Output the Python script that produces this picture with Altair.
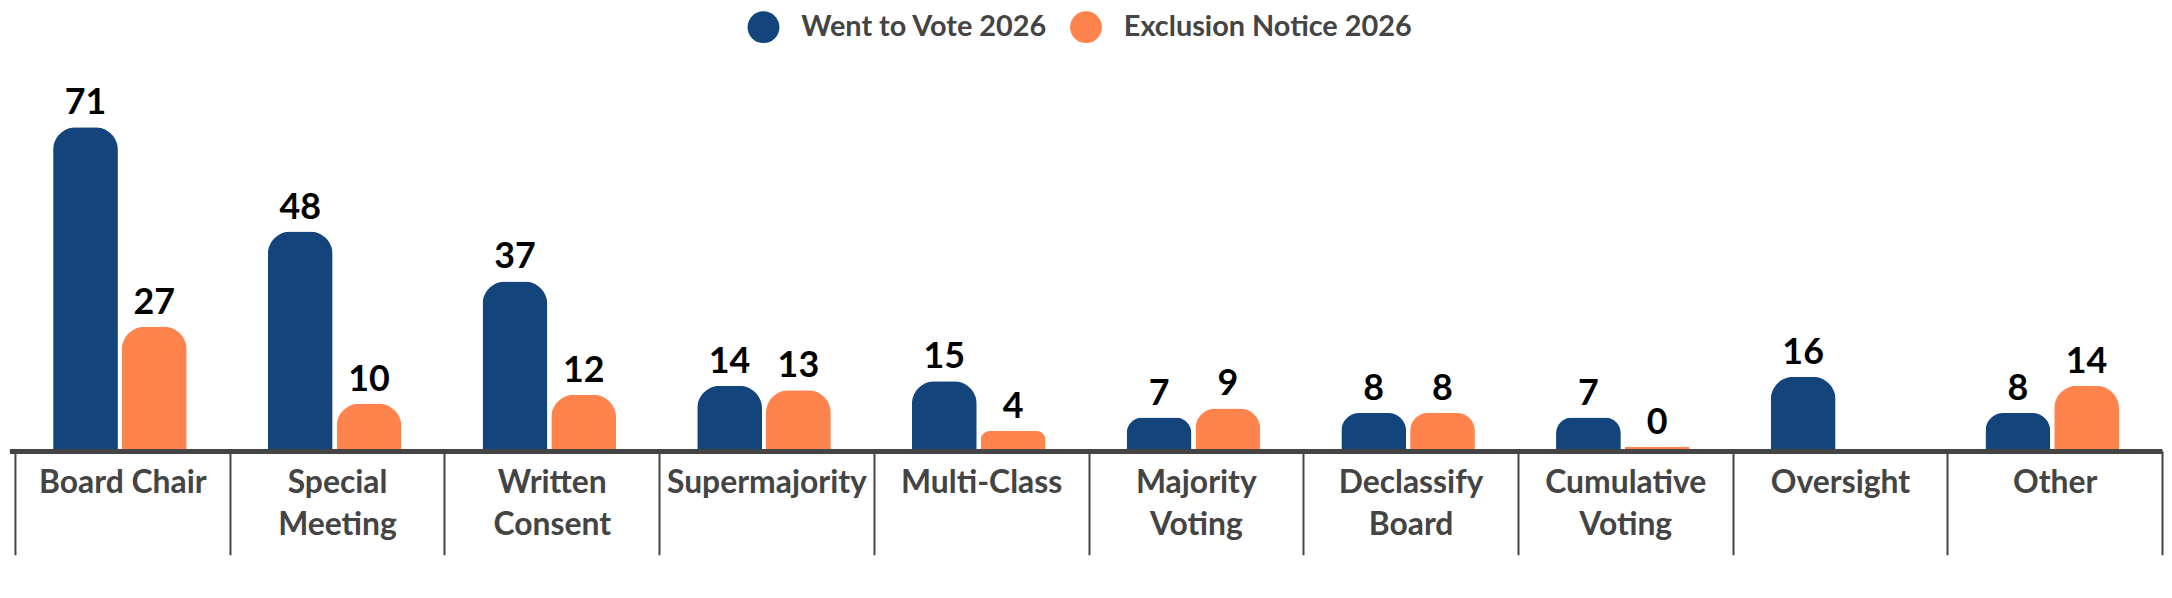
import altair as alt
import pandas as pd

categories = ["Board Chair", "Special Meeting", "Written Consent", "Supermajority",
              "Multi-Class", "Majority Voting", "Declassify Board", "Cumulative Voting",
              "Oversight", "Other"]
went_to_vote = [71, 48, 37, 14, 15, 7, 8, 7, 16, 8]
exclusion_notice = [27, 10, 12, 13, 4, 9, 8, 0, None, 14]
series_names = ["Went to Vote 2026", "Exclusion Notice 2026"]
series_colors = ["#13457C", "#FF834C"]

rows = []
for cat, a, b in zip(categories, went_to_vote, exclusion_notice):
    if a is not None:
        rows.append({"category": cat, "series": series_names[0], "value": a})
    if b is not None:
        rows.append({"category": cat, "series": series_names[1], "value": b})
df = pd.DataFrame(rows)

FONT = "Lato"
W, H = 2157, 442

x = alt.X(
    "category:N", sort=categories, title=None,
    scale=alt.Scale(paddingInner=0, paddingOuter=0),
    axis=alt.Axis(
        domainColor="#444444", domainWidth=4, offset=2,
        tickColor="#444444", tickWidth=2, tickSize=104, tickBand="extent",
        labelFont=FONT, labelFontSize=32, labelFontWeight="bold", labelColor="#444444",
        labelLineHeight=43, labelPadding=-88, labelLimit=400, labelOverlap=False,
        labelAngle=0,
        labelExpr="datum.label == 'Board Chair' ? datum.label : split(datum.label, ' ')",
    ),
)
xo = alt.XOffset("series:N", sort=series_names,
                 scale=alt.Scale(domain=series_names, paddingInner=0.058,
                                 paddingOuter=0.59, align=0.47))
y = alt.Y("bar_len:Q", scale=alt.Scale(domain=[0, 97]), axis=None)

base = alt.Chart(df).transform_calculate(bar_len="max(datum.value, 0.5)")

baseline_rule = alt.Chart(df).mark_rule(color="#444444", strokeWidth=4).encode(
    x=alt.value(-5), x2=alt.value(W), y=alt.value(H + 2)
)

bars = base.mark_bar(cornerRadiusTopLeft=23, cornerRadiusTopRight=23).encode(
    x=x, xOffset=xo, y=y,
    color=alt.Color(
        "series:N", sort=series_names,
        scale=alt.Scale(domain=series_names, range=series_colors),
        legend=alt.Legend(
            orient="none", legendX=736, legendY=2, direction="horizontal", title=None,
            symbolType="circle", symbolSize=1024, symbolStrokeWidth=0, symbolOpacity=1,
            labelFont=FONT, labelFontSize=29, labelFontWeight="bold", labelColor="#444444",
            labelLimit=400, labelOffset=22, columnPadding=22, padding=0,
        ),
    ),
)

labels = base.mark_text(dy=-13, baseline="alphabetic", font=FONT, fontSize=36,
                        fontWeight="bold", color="#000000").encode(
    x=x, xOffset=xo, y=y, text=alt.Text("value:Q"),
)

chart = alt.layer(baseline_rule, bars, labels).properties(
    width=W, height=H, background="#ffffff",
    padding={"left": 0, "top": 0, "right": 0, "bottom": 0},
).configure_view(stroke=None)

chart.save("out.html", embed_options={"renderer": "svg", "actions": False})
